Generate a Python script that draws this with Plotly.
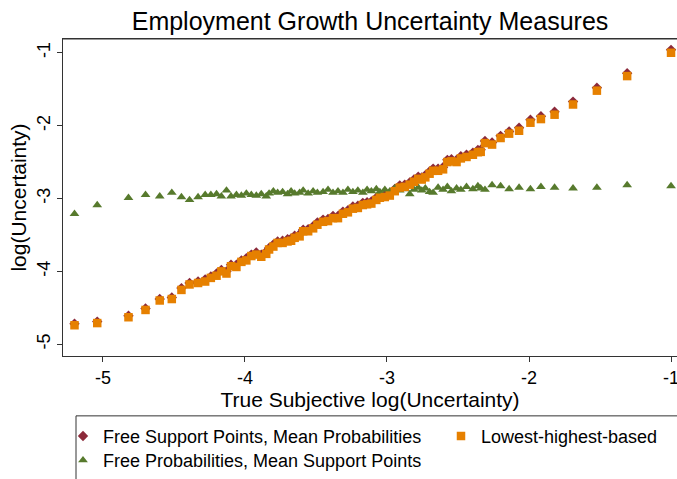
import plotly.graph_objects as go

# True subjective log(uncertainty) (shared x for all series)
true_log_unc = [
    -5.20, -5.04, -4.82, -4.70, -4.60, -4.515, -4.447, -4.39, -4.33, -4.28, -4.24, -4.20,
    -4.166, -4.13, -4.098, -4.06, -4.025, -3.99, -3.955, -3.92, -3.885, -3.85,
    -3.83, -3.80, -3.77, -3.735, -3.70, -3.675, -3.65, -3.615, -3.59, -3.555,
    -3.52, -3.49, -3.45, -3.415, -3.38, -3.345, -3.31, -3.275, -3.24, -3.205,
    -3.17, -3.14, -3.11, -3.075, -3.05, -3.015, -2.98, -2.945, -2.91, -2.875,
    -2.84, -2.81, -2.78, -2.755, -2.73, -2.70, -2.675, -2.64, -2.605, -2.575,
    -2.546, -2.51, -2.48, -2.44, -2.395, -2.36, -2.34, -2.31, -2.26,
    -2.20, -2.14, -2.07, -1.99, -1.916, -1.82, -1.69, -1.522, -1.309, -1.00,
]

# Lowest-highest-based
lowest_highest = [
    -4.74, -4.71, -4.63, -4.53, -4.40, -4.38, -4.255, -4.18, -4.16, -4.14, -4.09, -4.06,
    -4.00, -4.03, -3.93, -3.94, -3.87, -3.85, -3.79, -3.77, -3.80, -3.76,
    -3.70, -3.66, -3.61, -3.61, -3.59, -3.58, -3.54, -3.52, -3.45, -3.45,
    -3.41, -3.36, -3.32, -3.31, -3.27, -3.27, -3.21, -3.19, -3.14, -3.13,
    -3.09, -3.08, -3.07, -3.02, -2.99, -2.98, -2.96, -2.90, -2.85, -2.84,
    -2.81, -2.77, -2.73, -2.74, -2.71, -2.66, -2.62, -2.62, -2.60, -2.50,
    -2.49, -2.50, -2.45, -2.43, -2.40, -2.365, -2.36, -2.24, -2.26,
    -2.17, -2.11, -2.07, -1.96, -1.91, -1.85, -1.71, -1.52, -1.32, -1.00,
]

# Free Support Points, Mean Probabilities
free_support = [
    -4.72, -4.69, -4.61, -4.51, -4.38, -4.36, -4.23, -4.16, -4.14, -4.11, -4.07, -4.03,
    -3.98, -4.00, -3.91, -3.91, -3.85, -3.82, -3.77, -3.74, -3.77, -3.73,
    -3.68, -3.63, -3.59, -3.58, -3.56, -3.55, -3.51, -3.49, -3.43, -3.42,
    -3.38, -3.33, -3.29, -3.28, -3.24, -3.24, -3.18, -3.16, -3.11, -3.10,
    -3.06, -3.05, -3.04, -2.99, -2.96, -2.95, -2.93, -2.87, -2.82, -2.81,
    -2.78, -2.74, -2.70, -2.71, -2.68, -2.63, -2.59, -2.59, -2.57, -2.47,
    -2.46, -2.47, -2.42, -2.40, -2.37, -2.335, -2.33, -2.21, -2.23,
    -2.14, -2.08, -2.03, -1.92, -1.87, -1.81, -1.67, -1.48, -1.28, -0.96,
]

# Free Probabilities, Mean Support Points
free_prob = [
    -3.21, -3.09, -2.99, -2.95, -2.97, -2.92, -2.98, -3.02, -2.98, -2.95, -2.95, -2.94,
    -2.97, -2.89, -2.97, -2.95, -2.96, -2.93, -2.95, -2.96, -2.94, -2.97,
    -2.93, -2.90, -2.92, -2.91, -2.94, -2.90, -2.93, -2.92, -2.89, -2.93,
    -2.90, -2.92, -2.91, -2.88, -2.92, -2.90, -2.92, -2.88, -2.91, -2.89,
    -2.92, -2.88, -2.90, -2.87, -2.91, -2.88, -2.90, -2.86, -2.89, -2.87,
    -2.94, -2.88, -2.85, -2.89, -2.86, -2.91, -2.92, -2.85, -2.88, -2.84,
    -2.90, -2.86, -2.88, -2.84, -2.87, -2.83, -2.86, -2.88, -2.815,
    -2.83, -2.87, -2.85, -2.87, -2.84, -2.85, -2.86, -2.85, -2.815, -2.83,
]

x_ticks = [-5, -4, -3, -2, -1]
y_ticks = [-1, -2, -3, -4, -5]

FONT = "Liberation Sans, Arial, Helvetica, sans-serif"
MAROON = "#8C2A3A"
GREEN = "#577A2D"
ORANGE = "#E68000"

fig = go.Figure()
fig.add_trace(go.Scatter(
    x=true_log_unc, y=free_support, mode="markers",
    name="Free Support Points, Mean Probabilities",
    marker=dict(symbol="diamond", size=8, color=MAROON, line=dict(width=0)),
    legend="legend", showlegend=True,
))
fig.add_trace(go.Scatter(
    x=true_log_unc, y=free_prob, mode="markers",
    name="Free Probabilities, Mean Support Points",
    marker=dict(symbol="triangle-up", size=8.5, color=GREEN, line=dict(width=0)),
    legend="legend3", showlegend=True,
))
fig.add_trace(go.Scatter(
    x=true_log_unc, y=lowest_highest, mode="markers",
    name="Lowest-highest-based",
    marker=dict(symbol="square", size=8.5, color=ORANGE, line=dict(width=0)),
    legend="legend2", showlegend=True,
))

W, H = 677, 479
ML, MR, MT, MB = 63, 0, 39, 117
PW, PH = W - ML - MR, H - MT - MB

def px_x(p):
    return (p - ML) / PW

def px_y(p):
    return (H - MB - p) / PH

def legend_at(xp, yp):
    return dict(x=px_x(xp), y=px_y(yp), xanchor="left", yanchor="top",
                orientation="v", bgcolor="rgba(0,0,0,0)", borderwidth=0,
                font=dict(family=FONT, size=18, color="black"), itemclick=False,
                visible=True)

fig.update_layout(
    width=W, height=H,
    showlegend=True,
    margin=dict(l=ML, r=MR, t=MT, b=MB, pad=0),
    paper_bgcolor="white", plot_bgcolor="white",
    font=dict(family=FONT, color="black", size=18),
    title=dict(text="Employment Growth Uncertainty Measures",
               font=dict(family=FONT, size=25, color="black"),
               x=0.5, xref="paper", xanchor="center",
               y=1 - 21 / H, yref="container", yanchor="middle"),
    xaxis=dict(range=[-5.281, -0.958], tickvals=x_ticks, ticktext=[str(v) for v in x_ticks],
               showgrid=False, zeroline=False, showline=True, mirror=True,
               linecolor="#333333", linewidth=1,
               ticks="outside", ticklen=5, tickcolor="#333333",
               tickfont=dict(size=18), automargin=False, ticklabeloverflow="allow",
               title=dict(text="True Subjective log(Uncertainty)", font=dict(size=21), standoff=4)),
    yaxis=dict(range=[-5.162, -0.811], tickvals=y_ticks, ticktext=[str(v) for v in y_ticks],
               showgrid=False, zeroline=False, showline=True, mirror=False,
               linecolor="#333333", linewidth=1,
               ticks="outside", ticklen=5, tickcolor="#333333",
               tickangle=-90, tickfont=dict(size=18), automargin=False,
               title=dict(text="log(Uncertainty)", font=dict(size=21), standoff=1)),
    legend=legend_at(63, 425),
    legend3=legend_at(63, 450),
    legend2=legend_at(441, 425),
    shapes=[
        dict(type="line", xref="paper", yref="paper", x0=0, x1=1, y0=1, y1=1,
             line=dict(color="#333333", width=1)),
        dict(type="rect", xref="paper", yref="paper",
             x0=px_x(76), x1=1.05, y0=px_y(423), y1=px_y(500),
             line=dict(color="#333333", width=1), fillcolor="rgba(0,0,0,0)", layer="below"),
    ],
)

fig.write_html(
    "out.html",
    config={"displayModeBar": False},
    post_script="document.body.style.margin='0';document.body.style.overflow='hidden';",
)
